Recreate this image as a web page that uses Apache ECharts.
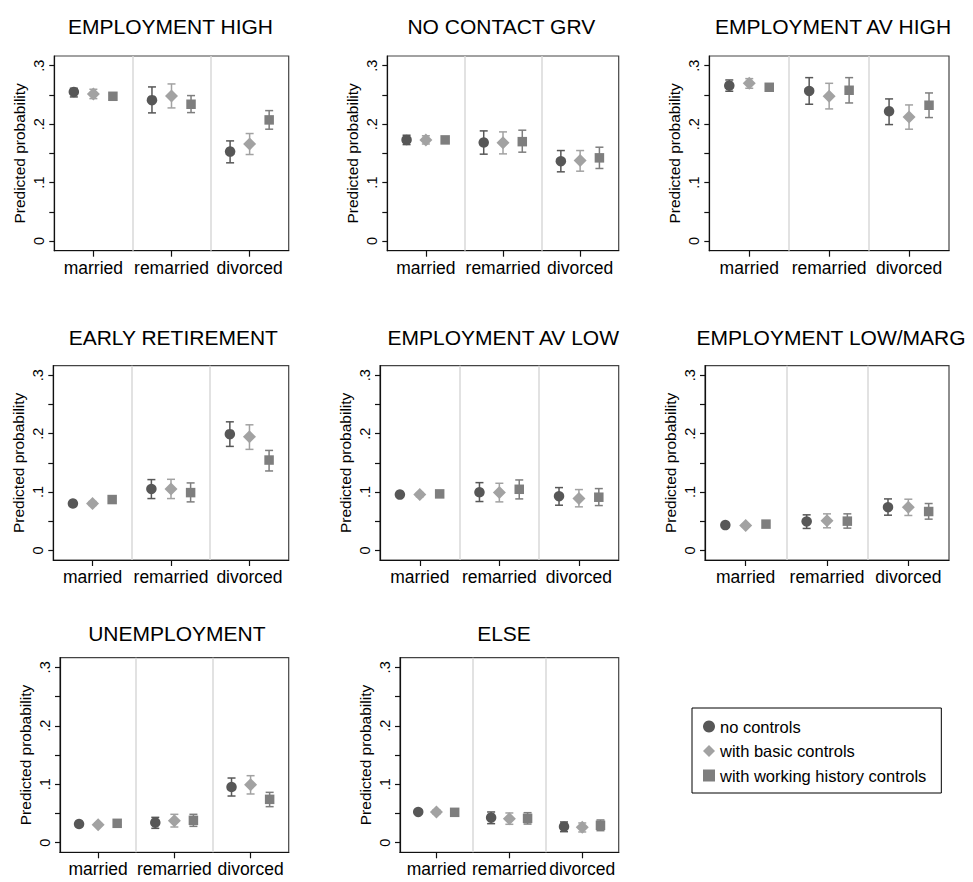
<!DOCTYPE html>
<html>
<head>
<meta charset="utf-8">
<script src="https://cdn.jsdelivr.net/npm/echarts@6/dist/echarts.min.js"></script>
<style>
html,body{margin:0;padding:0;background:#fff;}
#chart{width:973px;height:882px;}
</style>
</head>
<body>
<div id="chart"></div>
<script>
// ---------- DATA ----------
const panelTitles = ['EMPLOYMENT HIGH','NO CONTACT GRV','EMPLOYMENT AV HIGH','EARLY RETIREMENT','EMPLOYMENT AV LOW','EMPLOYMENT LOW/MARG','UNEMPLOYMENT','ELSE'];
const categories = ['married','remarried','divorced'];
const seriesNames = ['no controls','with basic controls','with working history controls'];
const yTickValues = [0,0.05,0.1,0.15,0.2,0.25,0.3];
const yLabelValues = [0,0.1,0.2,0.3];

const est_no = [
 [0.255, 0.241, 0.153],
 [0.173, 0.1685, 0.1366],
 [0.2658, 0.2567, 0.222],
 [0.0803, 0.1053, 0.1992],
 [0.0956, 0.0996, 0.0928],
 [0.0433, 0.0495, 0.074],
 [0.0319, 0.0342, 0.0952],
 [0.0525, 0.0428, 0.0274]
];
const lo_no = [
 [0.2465, 0.2192, 0.1338],
 [0.165, 0.1486, 0.1184],
 [0.2562, 0.234, 0.1992],
 [0.077, 0.0888, 0.1782],
 [0.092, 0.0837, 0.0774],
 [0.041, 0.0376, 0.0603],
 [0.029, 0.0245, 0.0798],
 [0.049, 0.0325, 0.0188]
];
const hi_no = [
 [0.2613, 0.2636, 0.1713],
 [0.181, 0.1884, 0.1548],
 [0.2755, 0.2795, 0.2431],
 [0.0836, 0.1213, 0.2203],
 [0.099, 0.1161, 0.1076],
 [0.0456, 0.0609, 0.0882],
 [0.0348, 0.0433, 0.1106],
 [0.056, 0.0525, 0.0354]
];
const est_basic = [
 [0.2516, 0.2482, 0.1662],
 [0.173, 0.168, 0.1378],
 [0.2698, 0.2476, 0.2123],
 [0.0803, 0.1053, 0.1947],
 [0.0956, 0.099, 0.0888],
 [0.0427, 0.0507, 0.074],
 [0.0308, 0.0376, 0.0992],
 [0.0525, 0.0411, 0.0262]
];
const lo_basic = [
 [0.2436, 0.2277, 0.148],
 [0.166, 0.1491, 0.1195],
 [0.2613, 0.226, 0.1913],
 [0.077, 0.0888, 0.1731],
 [0.092, 0.0831, 0.0746],
 [0.0405, 0.0387, 0.0598],
 [0.0285, 0.0268, 0.0833],
 [0.049, 0.0314, 0.0183]
];
const hi_basic = [
 [0.2596, 0.2687, 0.1839],
 [0.180, 0.1867, 0.1548],
 [0.2778, 0.2698, 0.2328],
 [0.0837, 0.1218, 0.2152],
 [0.099, 0.115, 0.1042],
 [0.045, 0.0626, 0.0877],
 [0.0333, 0.0485, 0.1146],
 [0.056, 0.0508, 0.0337]
];
const est_work = [
 [0.2476, 0.234, 0.2072],
 [0.173, 0.170, 0.1423],
 [0.263, 0.2579, 0.2323],
 [0.0871, 0.099, 0.1548],
 [0.0968, 0.1047, 0.0911],
 [0.045, 0.0501, 0.0666],
 [0.0331, 0.0382, 0.0741],
 [0.0519, 0.0416, 0.0297]
];
const lo_work = [
 [0.243, 0.2197, 0.1913],
 [0.169, 0.152, 0.1241],
 [0.2573, 0.2362, 0.2112],
 [0.084, 0.0831, 0.1361],
 [0.0935, 0.0882, 0.0768],
 [0.0425, 0.0381, 0.0535],
 [0.0305, 0.0279, 0.0616],
 [0.0485, 0.0319, 0.0205]
];
const hi_work = [
 [0.252, 0.2488, 0.2231],
 [0.177, 0.1896, 0.1605],
 [0.2687, 0.2795, 0.2533],
 [0.090, 0.1156, 0.1713],
 [0.100, 0.1207, 0.1059],
 [0.0475, 0.0626, 0.0803],
 [0.0357, 0.0485, 0.0861],
 [0.0553, 0.0513, 0.0388]
];

// ---------- LAYOUT / STYLE ----------
const FONT = '"Liberation Sans", Arial, Helvetica, sans-serif';
const gridBoxes = [
 {left:54.3, top:56, width:234.4, height:194.7, tx:170.5, ty:16},
 {left:387.3, top:56, width:231.4, height:194.7, tx:501.3, ty:16},
 {left:709.3, top:56, width:239.7, height:194.7, tx:833, ty:16},
 {left:53.3, top:365.7, width:235.4, height:194.3, tx:173.3, ty:327},
 {left:380, top:365.7, width:238.7, height:194.3, tx:503.3, ty:327},
 {left:705, top:365.7, width:244, height:194.3, tx:831, ty:327},
 {left:60, top:657.7, width:228.7, height:194.6, tx:176.8, ty:623.2},
 {left:400, top:657.7, width:218.7, height:194.6, tx:504, ty:623.2}
];
const seriesStyle = [
 {symbol:'circle', size:10.5, color:'#575757', offset:-0.25},
 {symbol:'diamond', size:[13,13], color:'#a2a2a2', offset:0},
 {symbol:'rect', size:9.5, color:'#7e7e7e', offset:0.25}
];
const estAll = [est_no, est_basic, est_work];
const loAll = [lo_no, lo_basic, lo_work];
const hiAll = [hi_no, hi_basic, hi_work];

const option = {
  animation:false,
  backgroundColor:'#fff',
  textStyle:{fontFamily:FONT},
  title:[], grid:[], xAxis:[], yAxis:[], series:[],
  legend:{
    orient:'vertical', left:692, top:708,
    data:seriesNames, selectedMode:false,
    itemWidth:12, itemHeight:12, itemGap:7.5,
    padding:[10,15,9,11],
    borderColor:'#000', borderWidth:1,
    textStyle:{fontSize:16.5, color:'#000', fontFamily:FONT}
  }
};

panelTitles.forEach((t,i)=>{
  const g = gridBoxes[i];
  option.title.push({text:t, left:g.tx, top:g.ty, textAlign:'center', padding:0,
    textStyle:{fontSize:21, fontWeight:'normal', color:'#000', fontFamily:FONT}});
  option.grid.push({left:g.left, top:g.top, width:g.width, height:g.height,
    show:true, borderColor:'#444', borderWidth:1.2, backgroundColor:'#fff'});
  option.xAxis.push({type:'value', gridIndex:i, min:0.5, max:3.5,
    axisLine:{show:true, onZero:false, lineStyle:{color:'#111', width:1.2}},
    axisTick:{show:true, length:6, customValues:categories.map((c,k)=>k+1), lineStyle:{color:'#111', width:1.2}},
    axisLabel:{customValues:categories.map((c,k)=>k+1), formatter:v=>categories[Math.round(v)-1],
      fontSize:17.5, color:'#000', margin:8, fontFamily:FONT},
    splitLine:{show:false}});
  option.yAxis.push({type:'value', gridIndex:i, min:-0.0165, max:0.3165,
    axisLine:{show:true, onZero:false, lineStyle:{color:'#111', width:1.2}},
    axisTick:{show:true, length:5, customValues:yTickValues, lineStyle:{color:'#111', width:1.2}},
    axisLabel:{customValues:yLabelValues, rotate:90, margin:8, fontSize:14.5, color:'#000', fontFamily:FONT,
      formatter:v=> v===0 ? '0' : ('.'+Math.round(v*10))},
    splitLine:{show:false},
    name:'Predicted probability', nameLocation:'middle', nameGap:27,
    nameTextStyle:{fontSize:15.5, color:'#000', fontFamily:FONT}});

  // separators between categories
  option.series.push({type:'scatter', name:'sep', xAxisIndex:i, yAxisIndex:i, data:[], silent:true,
    markLine:{silent:true, symbol:['none','none'], label:{show:false},
      lineStyle:{color:'#d8d8d8', type:'solid', width:1.5},
      data:categories.slice(1).map((c,k)=>({xAxis:k+1.5}))}});

  seriesNames.forEach((sn,s)=>{
    const st = seriesStyle[s];
    const xs = categories.map((c,k)=>k+1+st.offset);
    // error bars
    option.series.push({type:'custom', name:sn+' CI', xAxisIndex:i, yAxisIndex:i, silent:true, z:2,
      data: categories.map((c,k)=>[xs[k], loAll[s][i][k], hiAll[s][i][k]]),
      renderItem:(params, api)=>{
        const p1 = api.coord([api.value(0), api.value(1)]);
        const p2 = api.coord([api.value(0), api.value(2)]);
        const cap = 4;
        const ls = {stroke:st.color, lineWidth:1.5};
        return {type:'group', children:[
          {type:'line', shape:{x1:p1[0], y1:p1[1], x2:p2[0], y2:p2[1]}, style:ls},
          {type:'line', shape:{x1:p1[0]-cap, y1:p1[1], x2:p1[0]+cap, y2:p1[1]}, style:ls},
          {type:'line', shape:{x1:p2[0]-cap, y1:p2[1], x2:p2[0]+cap, y2:p2[1]}, style:ls}
        ]};
      }});
    // point estimates
    option.series.push({type:'scatter', name:sn, xAxisIndex:i, yAxisIndex:i, z:3,
      symbol:st.symbol, symbolSize:st.size,
      itemStyle:{color:st.color, opacity:1},
      data: categories.map((c,k)=>[xs[k], estAll[s][i][k]])});
  });
});

const chart = echarts.init(document.getElementById('chart'), null, {renderer:'svg', width:973, height:882});
chart.setOption(option);
</script>
</body>
</html>
